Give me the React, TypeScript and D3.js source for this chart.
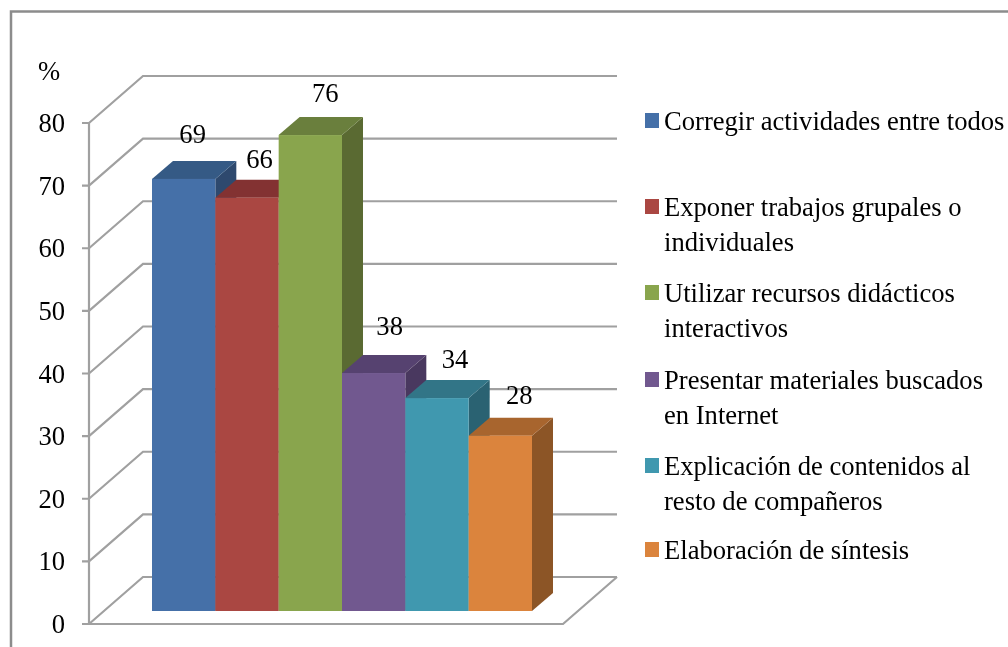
import React from "react";
import * as d3 from "d3";

const categories = ["Corregir", "Exponer", "Utilizar", "Presentar", "Explicación", "Elaboración"];
const values = [69, 66, 76, 38, 34, 28];
const frontColors = ["#4570A8", "#AA4643", "#89A54E", "#71588F", "#4198AF", "#DB843D"];
const topColors = ["#365A85", "#833331", "#6A7F3C", "#57436F", "#327587", "#A8652E"];
const sideColors = ["#2D4A6E", "#6E2B29", "#5A6B32", "#4A395E", "#2A6272", "#8C5528"];
const yTicks = [0, 10, 20, 30, 40, 50, 60, 70, 80];
const legendLines = [
  ["Corregir actividades entre todos"],
  ["Exponer trabajos grupales o", "individuales"],
  ["Utilizar recursos didácticos", "interactivos"],
  ["Presentar materiales buscados", "en Internet"],
  ["Explicación de contenidos al", "resto de compañeros"],
  ["Elaboración de síntesis"],
];
const legendRowY = [121, 207, 293, 380, 466, 550];
const labelDx = [1, 4.5, 7, 8, 10, 11];
const labelDy = [36, 30, 33, 38, 30, 32];

const FONT = "'Liberation Serif', serif";
const FS = 26.6;
const GRID = "#A0A0A0";

export default function App() {
  const y = d3.scaleLinear().domain([0, 80]).range([624, 123]);
  const x = d3.scaleBand<string>().domain(categories).range([152, 532]);
  const wallDx = 54, wallDy = 47, barInset = 13, depthX = 21, depthY = 18;
  const wallX = 89;
  const floorRight = 563;
  const w = x.bandwidth();
  return (
    <svg width={1008} height={647} style={{ position: "absolute", left: 0, top: 0, background: "#fff" }} fontFamily={FONT}>
      <defs>
        <filter id="soft" x="-5%" y="-5%" width="110%" height="110%">
          <feGaussianBlur stdDeviation="0.45" />
        </filter>
      </defs>
      <g filter="url(#soft)">
        <path d="M11 647V11.5H1008" fill="none" stroke="#8C8C8C" strokeWidth={2.5} />
        {yTicks.map((t) => (
          <path
            key={t}
            d={d3.line()([
              [wallX - 7, y(t)],
              [wallX, y(t)],
              [wallX + wallDx, y(t) - wallDy],
              [wallX + wallDx + floorRight - wallX, y(t) - wallDy],
            ]) as string}
            fill="none"
            stroke={GRID}
            strokeWidth={2.2}
          />
        ))}
        <line x1={wallX} x2={wallX} y1={y(80)} y2={y(0)} stroke={GRID} strokeWidth={2.2} />
        <path
          d={d3.line()([
            [wallX - 7, y(0)],
            [floorRight, y(0)],
            [floorRight + wallDx, y(0) - wallDy],
          ]) as string}
          fill="none"
          stroke={GRID}
          strokeWidth={2.2}
        />
        {categories.map((c, i) => {
          const x0 = x(c) as number;
          const top = y(values[i]) - barInset;
          const bottom = y(0) - barInset;
          return (
            <g key={c}>
              <path
                d={`M${x0 + w} ${top}L${x0 + w + depthX} ${top - depthY}V${bottom - depthY}L${x0 + w} ${bottom}Z`}
                fill={sideColors[i]}
              />
              <path
                d={`M${x0} ${top}L${x0 + depthX} ${top - depthY}H${x0 + w + depthX}L${x0 + w} ${top}Z`}
                fill={topColors[i]}
              />
              <rect x={x0} y={top} width={w} height={bottom - top} fill={frontColors[i]} />
            </g>
          );
        })}
        {categories.map((c, i) => (
          <text
            key={c}
            x={(x(c) as number) + w / 2 + 8 + labelDx[i]}
            y={y(values[i]) - barInset - labelDy[i]}
            textAnchor="middle"
            fontSize={FS}
            fill="#000"
          >
            {values[i]}
          </text>
        ))}
        {yTicks.map((t) => (
          <text key={t} x={65} y={y(t) + 9} textAnchor="end" fontSize={FS} fill="#000">
            {t}
          </text>
        ))}
        <text x={38} y={80} fontSize={FS} fill="#000">%</text>
        {legendLines.map((lines, i) => (
          <g key={lines[0]}>
            <rect x={645} y={legendRowY[i] - 8} width={14} height={15} fill={frontColors[i]} />
            {lines.map((l, j) => (
              <text key={l} x={664} y={legendRowY[i] + 9 + j * 35} fontSize={FS} fill="#000">
                {l}
              </text>
            ))}
          </g>
        ))}
      </g>
    </svg>
  );
}
